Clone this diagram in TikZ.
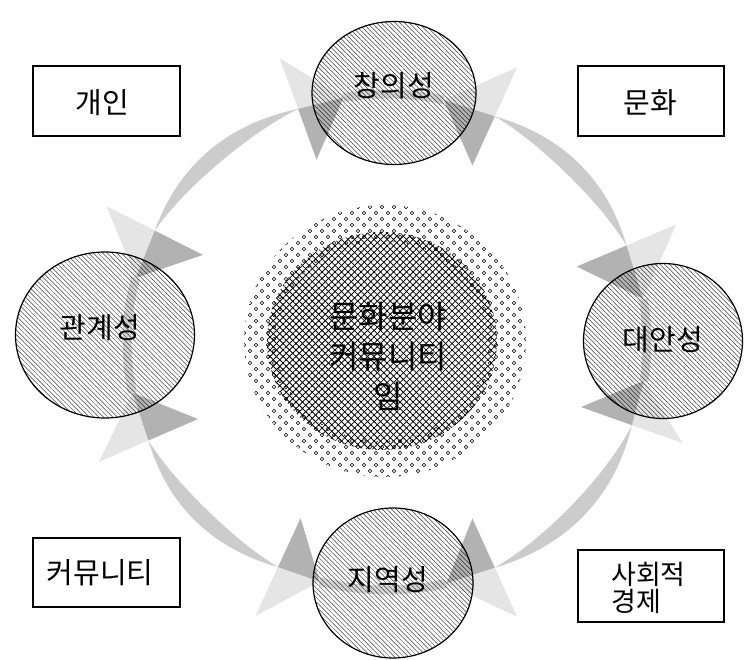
\documentclass[tikz,border=0pt]{standalone}
\usepackage{fontspec}
\setmainfont{Noto Sans CJK KR}
\usetikzlibrary{patterns.meta,calc,shapes.geometric}
\definecolor{lt}{gray}{0.90}
\definecolor{md}{gray}{0.80}
\definecolor{dk}{gray}{0.70}
\definecolor{bd}{gray}{0.84}
\newcommand\arrowhd[2]{%
  \coordinate (hm) at ($(387,317)+(#1:260pt and 248pt)$);
  \coordinate (ha) at ($(hm)+(#1:54pt)$);
  \coordinate (hc) at ($(hm)+(#1+180:54pt)$);
  \coordinate (ht) at ($(387,317)+(#2:260pt and 248pt)$);
  \fill[lt] (ha) -- (hm) -- (ht) -- cycle;
  \fill[dk] (hm) -- (hc) -- (ht) -- cycle;}
\newcommand\ribbon[2]{%
  \fill[md] plot[domain=#1:#2,samples=40,variable=\t]
   ({387+(260+8*sin((\t-#1)/(#2-#1)*180))*cos(\t)},{317+(248+8*sin((\t-#1)/(#2-#1)*180))*sin(\t)})
   -- plot[domain=#2:#1,samples=40,variable=\t]
   ({387+(260-8*sin((\t-#1)/(#2-#1)*180))*cos(\t)},{317+(248-8*sin((\t-#1)/(#2-#1)*180))*sin(\t)})
   -- cycle;}
\newcommand\band[2]{\draw[bd,line width=9pt] ($(387,317)+(#1:260pt and 248pt)$) arc[start angle=#1,end angle=#2,x radius=260pt,y radius=248pt];}
\begin{document}
\begin{tikzpicture}[x=1pt,y=1pt,
  box/.style={draw,line width=1.2pt,inner sep=0pt},
  circ/.style={ellipse,draw,line width=1.2pt,inner sep=0pt,pattern={Lines[angle=-45,distance=3.3pt,line width=0.32pt]}},
  lbl/.style={font=\fontsize{29}{32}\selectfont,inner sep=0pt}]
\useasboundingbox (0,0) rectangle (744,659);
% ring ribbons
\ribbon{110}{153.3}
\ribbon{203.4}{245.2}
\ribbon{294.5}{340.4}
\ribbon{22.9}{65.5}
% bands through circles
\band{77.4}{99.6}
\band{165}{191.8}
\band{255}{283.2}
\band{351}{370}
% arrowheads
\arrowhd{110}{99.6}
\arrowhd{65.5}{77.4}
\arrowhd{153.3}{165}
\arrowhd{203.4}{191.8}
\arrowhd{245.2}{255}
\arrowhd{294.5}{283.2}
\arrowhd{340.4}{351}
\arrowhd{22.9}{10}
% centre disc: dotted ring
\begin{scope}
\clip (385,318) ellipse[x radius=141pt,y radius=136pt];
\begin{scope}[even odd rule]
\clip (0,0) rectangle (744,659) (382,318) ellipse[x radius=106pt,y radius=100pt];
\foreach \j in {0,...,46}{\foreach \i in {0,...,24}{
  \draw[line width=0.6pt] ({244+\i*12+mod(\j,2)*6},{182+\j*6})
     circle[radius=1.7pt];}}
\end{scope}
\end{scope}
\fill[pattern={Lines[angle=45,distance=4.6pt,line width=0.8pt]}] (382,318) ellipse[x radius=115pt,y radius=109pt];
\fill[pattern={Lines[angle=-45,distance=4.6pt,line width=0.8pt]}] (382,318) ellipse[x radius=115pt,y radius=109pt];
\node[inner sep=0pt,align=center,font=\fontsize{32}{40}\selectfont] (mid) at (388,303) {문화분야\\커뮤니티\\임};
% circles
\node[circ,minimum width=164pt,minimum height=143pt] (cre) at (394,566) {};
\node[circ,minimum width=179pt,minimum height=166pt] (rel) at (105,324) {};
\node[circ,minimum width=159pt,minimum height=155pt] (alt) at (663,318) {};
\node[circ,minimum width=160pt,minimum height=150pt] (loc) at (393,76) {};
\node[lbl] (tcre) at (394,573) {창의성};
\node[lbl] (trel) at (100,331) {관계성};
\node[lbl] (talt) at (663,319) {대안성};
\node[lbl] (tloc) at (388,79) {지역성};
% boxes
\node[box,minimum width=147pt,minimum height=70pt] (ind) at (106.5,558) {};
\node[lbl] (tind) at (102,556) {개인};
\node[box,minimum width=146pt,minimum height=70pt] (cul) at (651,558) {};
\node[lbl] (tcul) at (650,556) {문화};
\node[box,minimum width=147pt,minimum height=69pt] (com) at (106.5,86.5) {};
\node[lbl] (tcom) at (100,86) {커뮤니티};
\node[box,minimum width=146pt,minimum height=72pt] (soc) at (651,73) {};
\node[lbl,align=left,anchor=west,font=\fontsize{27}{27}\selectfont] (tsoc) at (611,71) {사회적\\경제};
\end{tikzpicture}
\end{document}
